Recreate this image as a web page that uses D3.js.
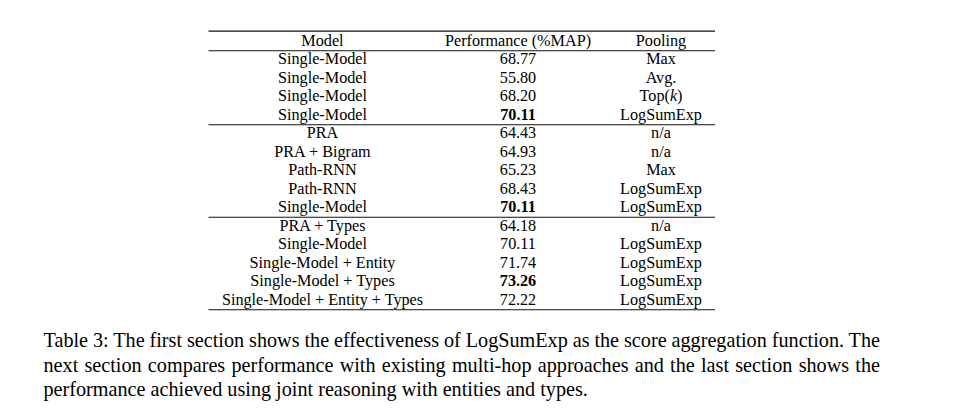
<!DOCTYPE html>
<html><head><meta charset="utf-8">
<script src="https://cdn.jsdelivr.net/npm/d3@7"></script>
<style>
html,body{margin:0;padding:0;background:#fff;}
svg{display:block;}
text{font-family:"Liberation Serif","Times New Roman",serif;fill:#000;}
</style></head>
<body>
<svg id="chart" width="953" height="415"></svg>
<script>
const headers = ["Model", "Performance (%MAP)", "Pooling"];
const models = ["Single-Model","Single-Model","Single-Model","Single-Model",
  "PRA","PRA + Bigram","Path-RNN","Path-RNN","Single-Model",
  "PRA + Types","Single-Model","Single-Model + Entity","Single-Model + Types","Single-Model + Entity + Types"];
const performance = [68.77,55.80,68.20,70.11,64.43,64.93,65.23,68.43,70.11,64.18,70.11,71.74,73.26,72.22];
const pooling = ["Max","Avg.","Top(k)","LogSumExp","n/a","n/a","Max","LogSumExp","LogSumExp",
  "n/a","LogSumExp","LogSumExp","LogSumExp","LogSumExp"];
const boldRows = [3, 8, 12];
const sectionEnds = [3, 8, 13];
const captionLines = [
  "Table 3: The first section shows the effectiveness of LogSumExp as the score aggregation function. The",
  "next section compares performance with existing multi-hop approaches and the last section shows the",
  "performance achieved using joint reasoning with entities and types."
];

const svg = d3.select("#chart");
svg.append("rect").attr("width",953).attr("height",415).attr("fill","#fff");

const y = d3.scaleLinear().domain([-1, 13]).range([45.6, 304.6]);
const x = d3.scaleOrdinal().domain(headers).range([322.5, 518, 661]);
const tableLeft = 208.5, tableRight = 715;
const fs = 16.2;

function rule(yy, w) {
  svg.append("line").attr("x1", tableLeft).attr("x2", tableRight)
    .attr("y1", yy).attr("y2", yy).attr("stroke", "#111").attr("stroke-width", w);
}
rule(31.2, 1.2);
rule(y(-1) + 5.1, 1.1);
sectionEnds.forEach(i => rule(y(i) + 5.1, 1.1));

// header
svg.selectAll("text.hdr").data(headers).join("text").attr("class","hdr")
  .attr("x", d => x(d)).attr("y", y(-1)).attr("text-anchor","middle")
  .attr("font-size", fs).text(d => d);

const rows = models.map((m, i) => ({m, p: performance[i], pool: pooling[i], i}));
const g = svg.selectAll("g.row").data(rows).join("g").attr("class","row");
g.append("text").attr("x", x("Model")).attr("y", d => y(d.i)).attr("text-anchor","middle")
  .attr("font-size", fs).text(d => d.m);
g.append("text").attr("x", x("Performance (%MAP)")).attr("y", d => y(d.i)).attr("text-anchor","middle")
  .attr("font-size", fs).attr("font-weight", d => boldRows.includes(d.i) ? "bold" : "normal")
  .text(d => d.p.toFixed(2));
g.append("text").attr("x", x("Pooling")).attr("y", d => y(d.i)).attr("text-anchor","middle")
  .attr("font-size", fs)
  .each(function(d) {
    const t = d3.select(this);
    const m = d.pool.match(/^(.*)\((k)\)$/);
    if (m) {
      t.append("tspan").text(m[1] + "(");
      t.append("tspan").attr("font-style","italic").text(m[2]);
      t.append("tspan").text(")");
    } else t.text(d.pool);
  });

// caption
const capLeft = 43.5, capRight = 880;
const capY = [347, 371.6, 396.2];
captionLines.forEach((line, k) => {
  const t = svg.append("text").attr("x", capLeft).attr("y", capY[k])
    .attr("font-size", 20.2).text(line);
  if (k < 2) {
    const w = t.node().getComputedTextLength();
    const spaces = (line.match(/ /g) || []).length;
    t.attr("word-spacing", (capRight - capLeft - w) / spaces);
  }
});
</script>
</body></html>
